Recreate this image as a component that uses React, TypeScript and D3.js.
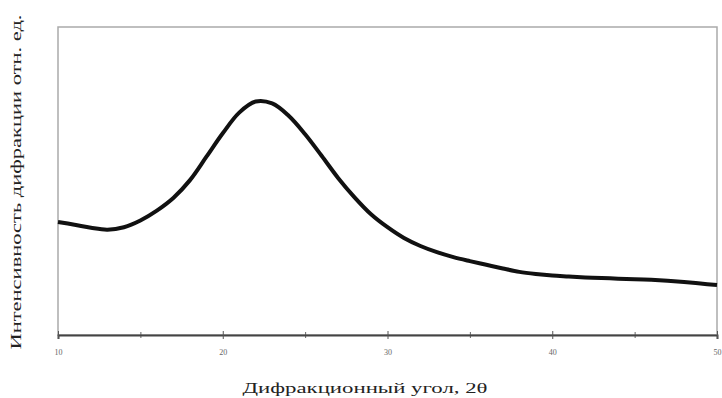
import React, { useRef, useEffect } from 'react';
import * as d3 from 'd3';

// 2theta, degrees, and the intensity (arb. units)
const angles = [
  10, 11, 12, 13, 14, 15, 16, 17, 18, 19, 20, 21, 22, 23, 24, 25, 26, 27, 28, 29, 30,
  31, 32, 33, 34, 35, 36, 37, 38, 39, 40, 41, 42, 43, 44, 45, 46, 47, 48, 49, 50,
];
const intensity = [
  367, 358, 348, 342, 350, 372, 404, 445, 502, 578, 655, 722, 758, 752, 712, 652, 582, 510, 447, 392, 350,
  315, 289, 269, 253, 240, 228, 216, 205, 198, 193, 190, 187, 185, 183, 181, 179, 176, 172, 167, 162,
];
const majorTicks = [10, 20, 30, 40, 50];
const minorTicks = [15, 25, 35, 45];

const xTitle = 'Дифракционный угол, 2θ';
const yTitle = 'Интенсивность дифракции отн. ед.';

const W = 722;
const H = 398;
const margin = { left: 58, right: 5, top: 27, bottom: 63 };
const serif = 'Liberation Serif, DejaVu Serif, serif';

const App = () => {
  const axisRef = useRef<SVGGElement>(null);

  const x = d3.scaleLinear().domain([10, 50]).range([margin.left, W - margin.right]);
  const y = d3.scaleLinear().domain([0, 1000]).range([H - margin.bottom, margin.top]);

  const pts = angles.map((a, i) => [a, intensity[i]] as [number, number]);
  const line = d3
    .line<[number, number]>()
    .x((d) => x(d[0]))
    .y((d) => y(d[1]))
    .curve(d3.curveCatmullRom.alpha(0.5));

  useEffect(() => {
    const g = d3.select(axisRef.current);
    g.selectAll('*').remove();

    // minor ticks, no labels
    g.append('g')
      .call(d3.axisBottom(x).tickValues(minorTicks).tickSize(3).tickFormat(() => ''))
      .call((s) => s.select('.domain').remove())
      .call((s) => s.selectAll('line').attr('y1', -3).attr('stroke', '#666'));

    const major = g
      .append('g')
      .call(d3.axisBottom(x).tickValues(majorTicks).tickSize(4).tickPadding(10).tickFormat(d3.format('d')));
    major.select('.domain').attr('stroke', '#444').attr('stroke-width', 2);
    major.selectAll('.tick line').attr('y1', -4).attr('stroke', '#555');
    major
      .selectAll('.tick text')
      .attr('fill', '#666')
      .attr('font-family', serif)
      .attr('font-size', 8);
  }, []);

  const plotH = H - margin.top - margin.bottom;

  return (
    <svg
      width={W}
      height={H}
      style={{ position: 'absolute', left: 0, top: 0, background: '#fff' }}
    >
      <rect
        x={margin.left}
        y={margin.top}
        width={W - margin.left - margin.right}
        height={plotH}
        fill="none"
        stroke="#aaa"
        strokeWidth={1.5}
      />
      <path
        d={line(pts) || ''}
        fill="none"
        stroke="#111"
        strokeWidth={4}
        strokeLinejoin="round"
      />
      <g ref={axisRef} transform={`translate(0,${H - margin.bottom})`} />
      <text
        x={365}
        y={393}
        textAnchor="middle"
        fontFamily={serif}
        fontSize={15}
        fill="#222"
        textLength={245}
        lengthAdjust="spacingAndGlyphs"
      >
        {xTitle}
      </text>
      <text
        transform={`translate(21,182) rotate(-90)`}
        textAnchor="middle"
        fontFamily={serif}
        fontSize={14}
        fill="#222"
        textLength={335}
        lengthAdjust="spacingAndGlyphs"
      >
        {yTitle}
      </text>
    </svg>
  );
};

export default App;
